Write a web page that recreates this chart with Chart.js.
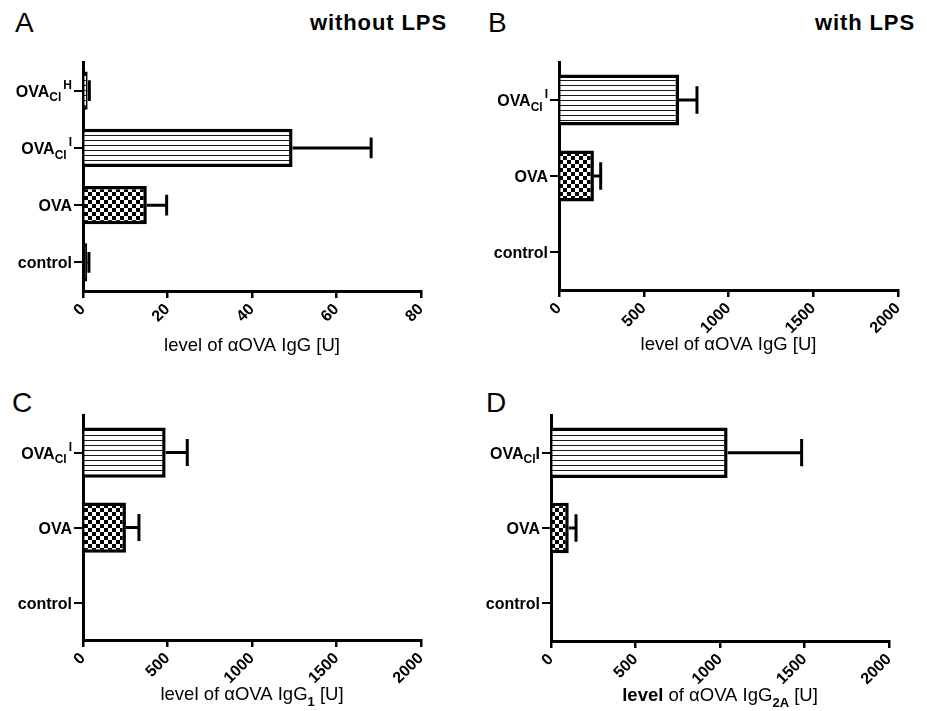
<!DOCTYPE html>
<html>
<head>
<meta charset="utf-8">
<script src="https://cdn.jsdelivr.net/npm/chart.js@4.4.1/dist/chart.umd.min.js"></script>
<style>
body { margin: 0; background: #fff; width: 927px; height: 711px; position: relative; overflow: hidden; font-family: "Liberation Sans", Arial, sans-serif; color: #000; }
.panel { position: absolute; }
.tag { position: absolute; font-size: 28px; line-height: 1; }
.cond { position: absolute; font-size: 22px; font-weight: bold; line-height: 1; letter-spacing: 0.9px; }
</style>
</head>
<body>
<div class="tag" style="left:15px;top:9px">A</div>
<div class="cond" style="right:480px;top:12px">without LPS</div>
<div class="tag" style="left:488px;top:9px">B</div>
<div class="cond" style="right:12px;top:12px">with LPS</div>
<div class="tag" style="left:12px;top:389px">C</div>
<div class="tag" style="left:486px;top:389px">D</div>

<div class="panel" style="left:0;top:0;width:463px;height:360px"><canvas id="chartA"></canvas></div>
<div class="panel" style="left:463px;top:0;width:464px;height:360px"><canvas id="chartB"></canvas></div>
<div class="panel" style="left:0;top:360px;width:463px;height:351px"><canvas id="chartC"></canvas></div>
<div class="panel" style="left:463px;top:360px;width:464px;height:351px"><canvas id="chartD"></canvas></div>

<script>
// --- data ---
const labelsA = ['OVA_{Cl}^{H}', 'OVA_{Cl}^{I}', 'OVA', 'control'];
const valuesA = [1.1, 49.6, 15.1, 1.0];
const errorsA = [0.4, 18.6, 4.7, 0.4];
const ticksA = [0, 20, 40, 60, 80];

const labelsB = ['OVA_{Cl}^{I}', 'OVA', 'control'];
const valuesB = [708, 206, 3];
const errorsB = [106, 40, 0];

const labelsC = ['OVA_{Cl}^{I}', 'OVA', 'control'];
const valuesC = [489, 254, 0];
const errorsC = [128, 77, 0];

const labelsD = ['OVA_{Cl}I', 'OVA', 'control'];
const valuesD = [1045, 105, 4];
const errorsD = [438, 43, 0];

const ticksIg = [0, 500, 1000, 1500, 2000];

const titleIgG = 'level of αOVA IgG [U]';
const titleIgG1 = 'level of αOVA IgG_{1} [U]';
const titleIgG2a = '*level* of αOVA IgG_{2A} [U]';

const FONT = '"Liberation Sans", Arial, sans-serif';

function stripes(ctx) {
	const c = document.createElement('canvas');
	c.width = 6; c.height = 5;
	const g = c.getContext('2d');
	g.fillStyle = '#fff';
	g.fillRect(0, 0, 6, 5);
	g.fillStyle = '#1a1a1a';
	g.fillRect(0, 0, 6, 1);
	return ctx.createPattern(c, 'repeat');
}

function checker(ctx) {
	const c = document.createElement('canvas');
	c.width = 8; c.height = 8;
	const g = c.getContext('2d');
	g.fillStyle = '#fff';
	g.fillRect(0, 0, 8, 8);
	g.fillStyle = '#000';
	g.fillRect(0, 0, 4, 4);
	g.fillRect(4, 4, 4, 4);
	return ctx.createPattern(c, 'repeat');
}

// tiny markup: _{sub} ^{sup} *bold*
function parseRich(str) {
	const out = [];
	const re = /([_^])\{([^}]*)\}|\*([^*]*)\*|([^_^*]+)/g;
	let m;
	while ((m = re.exec(str))) {
		if (m[1]) out.push({ text: m[2], mode: m[1] === '_' ? 'sub' : 'sup' });
		else if (m[3] !== undefined) out.push({ text: m[3], mode: 'base', bold: true });
		else out.push({ text: m[4], mode: 'base' });
	}
	return out;
}

function drawRich(ctx, str, x, y, o) {
	const parts = parseRich(str);
	const fontFor = p => {
		const small = p.mode !== 'base';
		const bold = o.bold || p.bold || (small && o.smallBold);
		return (bold ? 'bold ' : '') + (small ? o.small : o.size) + 'px ' + FONT;
	};
	let w = 0;
	parts.forEach(p => {
		ctx.font = fontFor(p);
		p.w = ctx.measureText(p.text).width + (p.mode === 'sup' ? 2 : 0);
		w += p.w;
	});
	let cx = o.align === 'right' ? x - w : o.align === 'center' ? x - w / 2 : x;
	ctx.textAlign = 'left';
	ctx.textBaseline = 'alphabetic';
	ctx.fillStyle = '#000';
	parts.forEach(p => {
		ctx.font = fontFor(p);
		const dy = p.mode === 'sub' ? o.size * 0.3 : p.mode === 'sup' ? -o.size * 0.5 : 0;
		ctx.fillText(p.text, cx + (p.mode === 'sup' ? 2 : 0), y + dy);
		cx += p.w;
	});
}

const errorBars = {
	id: 'errorBars',
	afterDatasetsDraw(chart, args, opts) {
		const ctx = chart.ctx;
		const xs = chart.scales.x;
		const data = chart.data.datasets[0].data;
		ctx.save();
		ctx.strokeStyle = '#000';
		ctx.lineWidth = 3;
		chart.getDatasetMeta(0).data.forEach((bar, i) => {
			const e = opts.errors[i];
			if (!e) return;
			const x0 = xs.getPixelForValue(data[i]);
			const x1 = xs.getPixelForValue(data[i] + e);
			const half = bar.height * 0.27;
			ctx.beginPath();
			ctx.moveTo(x0, bar.y);
			ctx.lineTo(x1, bar.y);
			ctx.moveTo(x1, bar.y - half);
			ctx.lineTo(x1, bar.y + half);
			ctx.stroke();
		});
		ctx.restore();
	}
};

const richLabels = {
	id: 'richLabels',
	afterDraw(chart, args, opts) {
		const ctx = chart.ctx;
		const ys = chart.scales.y;
		const area = chart.chartArea;
		ctx.save();
		chart.data.labels.forEach((lab, i) => {
			const py = ys.getPixelForTick(i);
			drawRich(ctx, lab, area.left - 11, py + 6, { size: 16, small: 12, bold: true, smallBold: true, align: 'right' });
		});
		drawRich(ctx, opts.title, (area.left + area.right) / 2, area.bottom + 60, { size: 18.5, small: 13, smallBold: true, align: 'center' });
		ctx.restore();
	}
};

function makeChart(id, labels, values, errors, ticks, title, pad) {
	const canvas = document.getElementById(id);
	const ctx = canvas.getContext('2d');
	const fills = labels.map(l => l === 'OVA' ? checker(ctx) : l === 'control' ? '#000' : stripes(ctx));
	return new Chart(canvas, {
		type: 'bar',
		data: {
			labels: labels,
			datasets: [{
				data: values,
				backgroundColor: fills,
				borderColor: '#000',
				borderWidth: 3.5,
				barPercentage: 0.67,
				categoryPercentage: 1
			}]
		},
		options: {
			indexAxis: 'y',
			responsive: true,
			maintainAspectRatio: false,
			animation: false,
			events: [],
			layout: { padding: { top: pad.top, right: pad.right, left: 0, bottom: 0 } },
			plugins: {
				legend: { display: false },
				tooltip: { enabled: false },
				errorBars: { errors: errors },
				richLabels: { title: title }
			},
			scales: {
				y: {
					offset: true,
					afterFit: s => { s.width = pad.left; },
					ticks: { display: false },
					grid: { offset: false, drawOnChartArea: false, color: '#000', lineWidth: 2, tickLength: 9 },
					border: { color: '#000', width: 3 }
				},
				x: {
					type: 'linear',
					min: ticks[0],
					max: ticks[ticks.length - 1],
					afterBuildTicks: s => { s.ticks = ticks.map(v => ({ value: v })); },
					afterFit: s => { s.height = pad.bottom; },
					ticks: {
						autoSkip: false,
						minRotation: 45,
						maxRotation: 45,
						padding: 2,
						color: '#000',
						callback: v => String(v),
						font: { family: FONT, size: 16, weight: 'bold' }
					},
					grid: { drawOnChartArea: false, color: '#000', lineWidth: 2.5, tickLength: 7 },
					border: { color: '#000', width: 3 }
				}
			}
		},
		plugins: [errorBars, richLabels]
	});
}

makeChart('chartA', labelsA, valuesA, errorsA, ticksA, titleIgG, { left: 83, top: 62, right: 42, bottom: 69 });
makeChart('chartB', labelsB, valuesB, errorsB, ticksIg, titleIgG, { left: 96, top: 62, right: 29, bottom: 70 });
makeChart('chartC', labelsC, valuesC, errorsC, ticksIg, titleIgG1, { left: 83, top: 55, right: 42, bottom: 71 });
makeChart('chartD', labelsD, valuesD, errorsD, ticksIg, titleIgG2a, { left: 88, top: 55, right: 38, bottom: 70 });
</script>
</body>
</html>
